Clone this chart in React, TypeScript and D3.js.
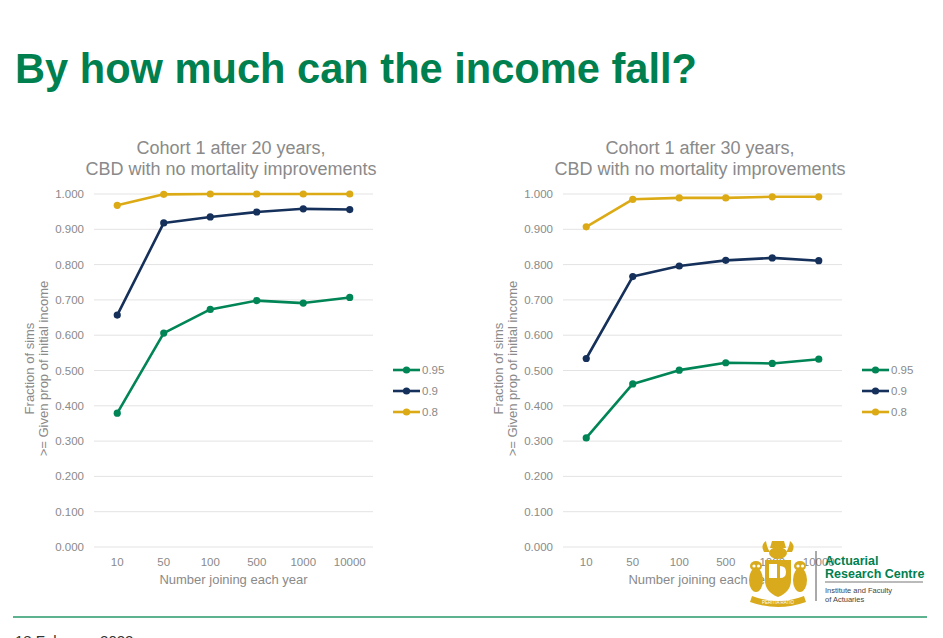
import * as d3 from "d3"

// categories and tick labels
const joiners = ["10", "50", "100", "500", "1000", "10000"]
const yTicks = [0, 0.1, 0.2, 0.3, 0.4, 0.5, 0.6, 0.7, 0.8, 0.9, 1.0]
const seriesNames = ["0.95", "0.9", "0.8"]
const seriesColors = ["#008556", "#15305a", "#dcaa14"]

// cohort 1 after 20 years
const after20_095 = [0.379, 0.606, 0.673, 0.698, 0.691, 0.707]
const after20_090 = [0.657, 0.918, 0.935, 0.949, 0.958, 0.956]
const after20_080 = [0.968, 0.999, 1.0, 1.0, 1.0, 1.0]

// cohort 1 after 30 years
const after30_095 = [0.309, 0.462, 0.501, 0.522, 0.520, 0.532]
const after30_090 = [0.534, 0.766, 0.796, 0.812, 0.819, 0.811]
const after30_080 = [0.907, 0.985, 0.989, 0.989, 0.992, 0.992]

const font = "Liberation Sans, Arial, sans-serif"
const grey = "#8a8a8a"

type PanelProps = {
  x0: number
  titleLines: string[]
  series: number[][]
}

function Panel({ x0, titleLines, series }: PanelProps) {
  const plotW = 279
  const top = 194
  const bottom = 547

  const xScale = d3.scaleBand().domain(joiners).range([x0, x0 + plotW])
  const yScale = d3.scaleLinear().domain([0, 1]).range([bottom, top])
  const cx = (i: number) => (xScale(joiners[i]) as number) + xScale.bandwidth() / 2
  const line = d3.line<number>()
    .x((_, i) => cx(i))
    .y(d => yScale(d))

  const midX = x0 + plotW / 2
  const midY = (top + bottom) / 2 - 2

  return (
    <g fontFamily={font}>
      {titleLines.map((t, i) => (
        <text key={t} x={midX - 2.5} y={154 + i * 21} textAnchor="middle" fontSize={18} fill={grey}>{t}</text>
      ))}
      {yTicks.map(t => (
        <g key={t}>
          <line x1={x0} x2={x0 + plotW} y1={yScale(t)} y2={yScale(t)} stroke="#e3e3e3" strokeWidth={1} />
          <text x={x0 - 10} y={yScale(t) + 4} textAnchor="end" fontSize={11.5} fill={grey}>{t.toFixed(3)}</text>
        </g>
      ))}
      {joiners.map((j, i) => (
        <text key={j} x={cx(i)} y={566} textAnchor="middle" fontSize={11.5} fill={grey}>{j}</text>
      ))}
      <text x={midX} y={584} textAnchor="middle" fontSize={13} fill={grey}>Number joining each year</text>
      <text transform={`translate(${x0 - 60},${midY}) rotate(-90)`} textAnchor="middle" fontSize={13} fill={grey}>Fraction of sims</text>
      <text transform={`translate(${x0 - 46},${midY}) rotate(-90)`} textAnchor="middle" fontSize={13} fill={grey}>&gt;= Given prop of initial income</text>
      {[...series].reverse().map((s, ri) => {
        const i = series.length - 1 - ri
        return (
          <g key={seriesNames[i]}>
            <path d={line(s) ?? ""} fill="none" stroke={seriesColors[i]} strokeWidth={2.6} strokeLinejoin="round" />
            {s.map((v, k) => (
              <circle key={k} cx={cx(k)} cy={yScale(v)} r={3.6} fill={seriesColors[i]} />
            ))}
          </g>
        )
      })}
      {seriesNames.map((n, i) => {
        const ly = 370 + i * 21
        const lx = x0 + plotW + 20
        return (
          <g key={n}>
            <line x1={lx} x2={lx + 27} y1={ly} y2={ly} stroke={seriesColors[i]} strokeWidth={2.6} />
            <circle cx={lx + 13.5} cy={ly} r={3.6} fill={seriesColors[i]} />
            <text x={lx + 29} y={ly + 4} fontSize={11.5} fill={grey}>{n}</text>
          </g>
        )
      })}
    </g>
  )
}

function Crest() {
  const gold = "#d9ab1c"
  return (
    <g fill={gold} stroke="none">
      {/* helmet and crest */}
      <path d="M770,548 L786,548 L784,541 L772,541 Z" />
      <ellipse cx={778} cy={553} rx={9} ry={6} />
      <path d="M764,552 Q760,545 766,541 Q767,548 770,552 Z" />
      <path d="M792,552 Q796,545 790,541 Q789,548 786,552 Z" />
      {/* shield */}
      <path d="M765,560 L791,560 L791,580 Q791,592 778,597 Q765,592 765,580 Z" />
      <path d="M769,564 L777,564 L777,578 L769,578 Z" fill="#fff" />
      <path d="M780,566 Q786,566 786,572 Q786,578 780,578 Z" fill="#fff" />
      {/* owls */}
      <ellipse cx={756} cy={580} rx={7} ry={12} />
      <ellipse cx={756} cy={566} rx={6} ry={5} />
      <circle cx={754} cy={566} r={1.6} fill="#fff" />
      <circle cx={758.5} cy={566} r={1.6} fill="#fff" />
      <ellipse cx={800} cy={580} rx={7} ry={12} />
      <ellipse cx={800} cy={566} rx={6} ry={5} />
      <circle cx={798} cy={566} r={1.6} fill="#fff" />
      <circle cx={802.5} cy={566} r={1.6} fill="#fff" />
      {/* ribbon */}
      <path d="M752,596 Q778,606 804,596 L806,602 Q778,612 750,602 Z" />
      <text x={778} y={604} textAnchor="middle" fontSize={4.5} fill="#fff" fontFamily={font}>PERITIA RATIO</text>
    </g>
  )
}

export default function App() {
  return (
    <svg width={943} height={638} viewBox="0 0 943 638" style={{ display: "block", position: "absolute", left: 0, top: 0 }}>
      <rect width={943} height={638} fill="#fff" />
      <text x={15} y={83} fontFamily={font} fontWeight="bold" fontSize={43} fill="#00804f"
        textLength={682} lengthAdjust="spacingAndGlyphs">By how much can the income fall?</text>

      <Panel x0={94} titleLines={["Cohort 1 after 20 years,", "CBD with no mortality improvements"]}
        series={[after20_095, after20_090, after20_080]} />
      <Panel x0={563} titleLines={["Cohort 1 after 30 years,", "CBD with no mortality improvements"]}
        series={[after30_095, after30_090, after30_080]} />

      <Crest />
      <line x1={816} x2={816} y1={551} y2={601} stroke="#555" strokeWidth={1} />
      <g fontFamily={font}>
        <text x={825} y={565} fontSize={12.5} fontWeight="bold" fill="#00804f">Actuarial</text>
        <text x={825} y={578} fontSize={12.5} fontWeight="bold" fill="#00804f">Research Centre</text>
        <line x1={825} x2={923} y1={582} y2={582} stroke="#777" strokeWidth={1.2} />
        <text x={825} y={593} fontSize={7.5} fill="#444">Institute and Faculty</text>
        <text x={825} y={602} fontSize={7.5} fill="#444">of Actuaries</text>
      </g>

      <line x1={13} x2={927} y1={617} y2={617} stroke="#5db38f" strokeWidth={2} />
      <text x={15} y={646} fontFamily={font} fontSize={15} fill="#333">18 February 2022</text>
    </svg>
  )
}
